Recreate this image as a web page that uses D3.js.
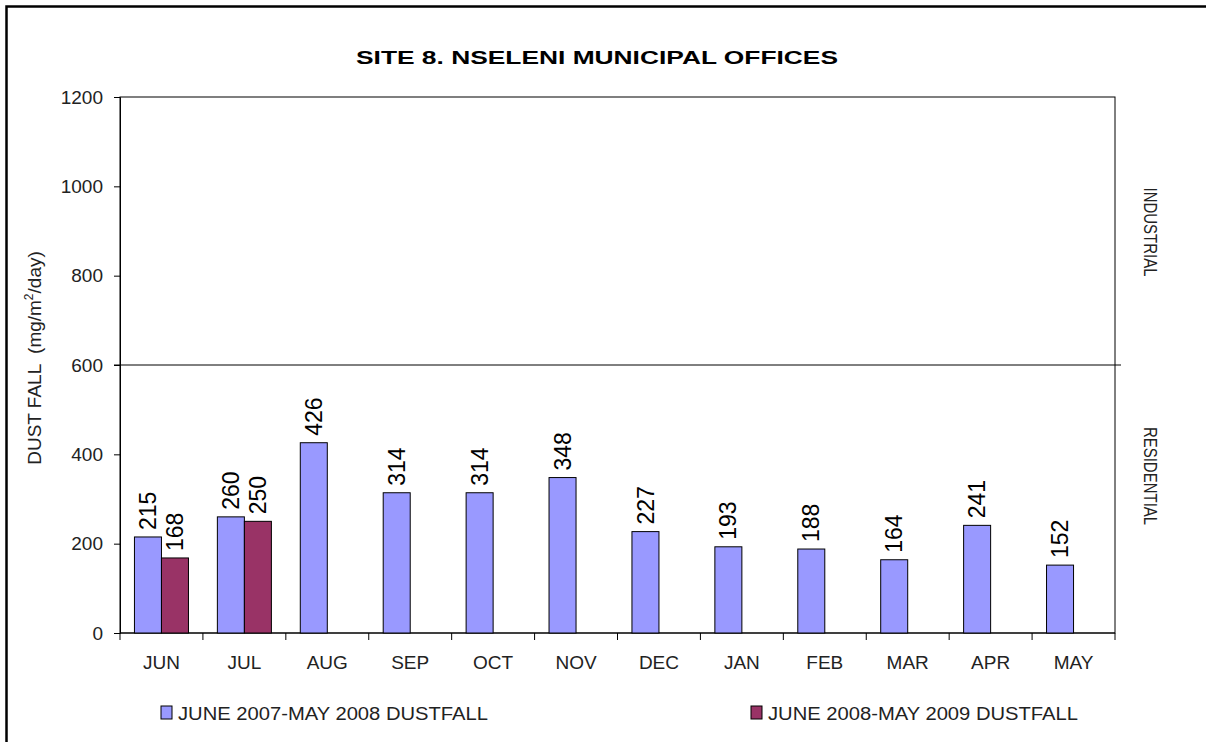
<!DOCTYPE html>
<html>
<head>
<meta charset="utf-8">
<script src="https://cdn.jsdelivr.net/npm/d3@7"></script>
<style>
  body { margin: 0; background: #fff; }
  svg { display: block; font-family: "Liberation Sans", Arial, sans-serif; }
</style>
</head>
<body>
<svg id="chart" width="1206" height="742"></svg>
<script>
// data
var months = ["JUN", "JUL", "AUG", "SEP", "OCT", "NOV", "DEC", "JAN", "FEB", "MAR", "APR", "MAY"];
var series = ["JUNE 2007-MAY 2008 DUSTFALL", "JUNE 2008-MAY 2009 DUSTFALL"];
var dust0708 = [215, 260, 426, 314, 314, 348, 227, 193, 188, 164, 241, 152];
var dust0809 = [168, 250, null, null, null, null, null, null, null, null, null, null];
var yTicks = [0, 200, 400, 600, 800, 1000, 1200];
var limitLine = 600;
var colors = ["#9999FF", "#993366"];

var svg = d3.select("#chart");

// outer frame (right/bottom edge fall outside the picture)
svg.append("rect")
  .attr("x", 6.5).attr("y", 6.5)
  .attr("width", 1220).attr("height", 760)
  .attr("fill", "none").attr("stroke", "#000").attr("stroke-width", 2.5);

var plotL = 120, plotR = 1115, plotT = 97, plotB = 633;

var y = d3.scaleLinear().domain([0, 1200]).range([plotB, plotT]);
var x0 = d3.scaleBand().domain(months).range([plotL, plotR]).padding(0);
var x1 = d3.scaleBand().domain([0, 1]).range([0, x0.bandwidth()]).paddingInner(0).paddingOuter(0.535);

// plot box
svg.append("rect")
  .attr("x", plotL).attr("y", plotT)
  .attr("width", plotR - plotL).attr("height", plotB - plotT)
  .attr("fill", "none").attr("stroke", "#000").attr("stroke-width", 1);

// y axis
var yAxis = svg.append("g")
  .attr("transform", "translate(" + plotL + ",0)")
  .call(d3.axisLeft(y).tickValues(yTicks).tickSize(6).tickPadding(11).tickFormat(d3.format("d")));
yAxis.select(".domain").attr("stroke", "#000");
yAxis.selectAll(".tick line").attr("stroke", "#000");
yAxis.selectAll("text").attr("font-size", 19).attr("fill", "#222").attr("font-family", "Liberation Sans, Arial, sans-serif");

// x axis, ticks between the months
var xAxis = svg.append("g").attr("transform", "translate(0," + plotB + ")");
xAxis.append("line")
  .attr("x1", plotL).attr("x2", plotR)
  .attr("stroke", "#000");
xAxis.selectAll("line.tk")
  .data(months.concat(["end"]))
  .enter().append("line")
  .attr("class", "tk")
  .attr("x1", function(d, i) { return i < months.length ? x0(d) : plotR; })
  .attr("x2", function(d, i) { return i < months.length ? x0(d) : plotR; })
  .attr("y1", 0).attr("y2", 7)
  .attr("stroke", "#000");
xAxis.selectAll("text")
  .data(months)
  .enter().append("text")
  .attr("x", function(d) { return x0(d) + x0.bandwidth() / 2; })
  .attr("y", 36)
  .attr("text-anchor", "middle")
  .attr("font-size", 19)
  .attr("fill", "#222")
  .text(function(d) { return d; });

// 600 line between residential and industrial
svg.append("line")
  .attr("x1", plotL - 6).attr("x2", plotR + 6)
  .attr("y1", y(limitLine)).attr("y2", y(limitLine))
  .attr("stroke", "#000").attr("stroke-width", 1);

// bars
var rows = [];
months.forEach(function(m, i) {
  [dust0708[i], dust0809[i]].forEach(function(v, s) {
    if (v != null) rows.push({ month: m, s: s, v: v });
  });
});

svg.append("g").selectAll("rect")
  .data(rows)
  .enter().append("rect")
  .attr("x", function(d) { return x0(d.month) + x1(d.s); })
  .attr("y", function(d) { return y(d.v); })
  .attr("width", x1.bandwidth())
  .attr("height", function(d) { return y(0) - y(d.v); })
  .attr("fill", function(d) { return colors[d.s]; })
  .attr("stroke", "#000").attr("stroke-width", 1);

// value labels, rotated
svg.append("g").selectAll("text")
  .data(rows)
  .enter().append("text")
  .attr("transform", function(d) {
    var cx = x0(d.month) + x1(d.s) + x1.bandwidth() / 2;
    return "translate(" + cx + "," + (y(d.v) - 7) + ") rotate(-90)";
  })
  .attr("dy", "0.35em")
  .attr("font-size", 23)
  .attr("fill", "#000")
  .text(function(d) { return d.v; });

// title
svg.append("text")
  .attr("x", 597).attr("y", 64)
  .attr("text-anchor", "middle")
  .attr("font-size", 19).attr("font-weight", "bold")
  .attr("textLength", 482).attr("lengthAdjust", "spacingAndGlyphs")
  .text("SITE 8. NSELENI MUNICIPAL OFFICES");

// y axis title
var yt = svg.append("text")
  .attr("transform", "translate(41,358) rotate(-90)")
  .attr("text-anchor", "middle")
  .attr("font-size", 19).attr("fill", "#222");
yt.append("tspan").text("DUST FALL \u00a0(mg/m");
yt.append("tspan").attr("font-size", 12).attr("dy", -8).text("2");
yt.append("tspan").attr("dy", 8).text("/day)");

// zone labels on the right
svg.append("text")
  .attr("transform", "translate(1144,232) rotate(90) scale(1,1.2)")
  .attr("text-anchor", "middle")
  .attr("font-size", 15).attr("fill", "#222")
  .text("INDUSTRIAL");
svg.append("text")
  .attr("transform", "translate(1144,476) rotate(90) scale(1,1.2)")
  .attr("text-anchor", "middle")
  .attr("font-size", 15).attr("fill", "#222")
  .text("RESIDENTIAL");

// legend
var legendX = [161, 751];
var leg = svg.append("g").selectAll("g")
  .data(series)
  .enter().append("g")
  .attr("transform", function(d, i) { return "translate(" + legendX[i] + ",706)"; });
leg.append("rect")
  .attr("width", 11).attr("height", 13)
  .attr("fill", function(d, i) { return colors[i]; })
  .attr("stroke", "#000").attr("stroke-width", 1);
leg.append("text")
  .attr("x", 17).attr("y", 14)
  .attr("font-size", 18).attr("fill", "#222")
  .attr("textLength", 310).attr("lengthAdjust", "spacingAndGlyphs")
  .text(function(d) { return d; });
</script>
</body>
</html>
